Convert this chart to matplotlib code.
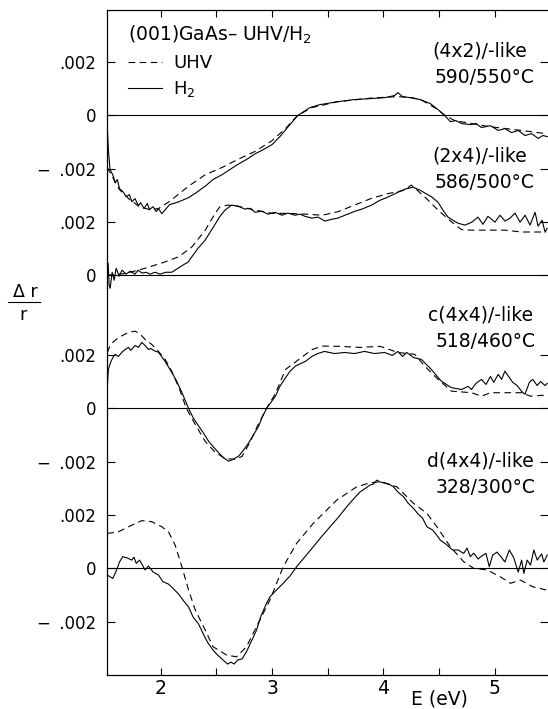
import numpy as np
import matplotlib.pyplot as plt
from matplotlib.lines import Line2D

plt.rcParams['font.family'] = 'DejaVu Sans'

# ---- data: photon energy (eV) and delta r / r (units of 1e-3) ----
# (4x2)/-like  590/550 C
e_uhv_4x2 = [1.52, 1.57, 1.63, 1.72, 1.81, 1.90, 1.98, 2.08, 2.25, 2.40, 2.55, 2.69, 2.85,
             3.00, 3.12, 3.23, 3.36, 3.59, 3.90, 4.13, 4.26, 4.35, 4.49, 4.55, 4.64, 4.94,
             5.24, 5.46]
r_uhv_4x2 = [-1.96, -2.34, -2.79, -3.16, -3.43, -3.54, -3.50, -3.23, -2.66, -2.23, -1.96,
             -1.66, -1.35, -0.95, -0.50, 0.0, 0.29, 0.51, 0.65, 0.70, 0.66, 0.55, 0.21, 0.0,
             -0.20, -0.42, -0.57, -0.69]
e_h2_4x2 = [1.52, 1.53, 1.545, 1.57, 1.59, 1.61, 1.63, 1.66, 1.69, 1.72, 1.74, 1.77, 1.80,
            1.82, 1.85, 1.88, 1.90, 1.93, 1.96, 1.98, 2.01, 2.05, 2.08, 2.16, 2.25, 2.32,
            2.40, 2.47, 2.55, 2.62, 2.69, 2.77, 2.85, 2.92, 3.00, 3.07, 3.14, 3.23, 3.34,
            3.43, 3.59, 3.74, 3.90, 4.01, 4.10, 4.13, 4.17, 4.24, 4.33, 4.42, 4.49, 4.55,
            4.60, 4.65, 4.70, 4.78, 4.83, 4.88, 4.96, 5.03, 5.09, 5.15, 5.21, 5.27, 5.33,
            5.39, 5.43, 5.47]
r_h2_4x2 = [-0.42, -1.29, -2.04, -2.23, -2.53, -2.41, -2.75, -2.86, -3.05, -2.98, -3.24,
            -3.13, -3.39, -3.28, -3.50, -3.31, -3.54, -3.43, -3.61, -3.50, -3.69, -3.50,
            -3.35, -3.25, -3.09, -2.90, -2.66, -2.41, -2.23, -2.04, -1.85, -1.66, -1.44,
            -1.29, -1.10, -0.80, -0.45, -0.01, 0.29, 0.40, 0.51, 0.59, 0.63, 0.66, 0.74,
            0.85, 0.70, 0.66, 0.59, 0.44, 0.21, -0.01, -0.24, -0.20, -0.31, -0.35, -0.31,
            -0.46, -0.39, -0.57, -0.50, -0.65, -0.57, -0.76, -0.69, -0.87, -0.76, -0.80]

# (2x4)/-like  586/500 C
e_uhv_2x4 = [1.52, 1.68, 1.86, 2.04, 2.16, 2.28, 2.40, 2.49, 2.53, 2.60, 2.69, 2.85, 3.00,
             3.14, 3.30, 3.45, 3.59, 3.74, 3.89, 4.04, 4.19, 4.25, 4.37, 4.49, 4.61, 4.70,
             4.79, 5.09, 5.24, 5.45]
r_uhv_2x4 = [0.0, 0.06, 0.26, 0.50, 0.69, 1.06, 1.69, 2.33, 2.56, 2.63, 2.59, 2.44, 2.32,
             2.32, 2.29, 2.25, 2.38, 2.63, 2.88, 3.06, 3.19, 3.38, 2.94, 2.44, 2.00, 1.71,
             1.69, 1.69, 1.62, 1.62]
e_h2_2x4 = [1.519, 1.528, 1.537, 1.546, 1.564, 1.582, 1.600, 1.627, 1.653, 1.689, 1.725,
            1.769, 1.796, 1.832, 1.868, 1.904, 1.949, 1.994, 2.047, 2.099, 2.155, 2.200,
            2.245, 2.290, 2.335, 2.398, 2.443, 2.488, 2.532, 2.577, 2.637, 2.694, 2.757,
            2.802, 2.847, 2.909, 2.963, 3.026, 3.088, 3.142, 3.205, 3.250, 3.295, 3.358,
            3.412, 3.474, 3.537, 3.591, 3.654, 3.744, 3.807, 3.894, 3.968, 4.040, 4.130,
            4.193, 4.265, 4.328, 4.373, 4.435, 4.489, 4.534, 4.579, 4.624, 4.669, 4.731,
            4.794, 4.848, 4.893, 4.938, 5.001, 5.046, 5.091, 5.136, 5.181, 5.226, 5.271,
            5.316, 5.361, 5.388, 5.424, 5.451, 5.469]
r_h2_2x4 = [0.19, 0.45, -0.38, -0.49, 0.11, -0.19, 0.26, -0.04, 0.19, 0.04, 0.15, 0.04,
            0.19, 0.08, 0.11, 0.04, 0.11, 0.04, 0.11, 0.11, 0.26, 0.38, 0.49, 0.75, 1.01,
            1.31, 1.61, 1.91, 2.21, 2.44, 2.63, 2.59, 2.48, 2.51, 2.36, 2.40, 2.29, 2.36,
            2.25, 2.33, 2.25, 2.29, 2.21, 2.14, 2.18, 2.03, 2.10, 2.14, 2.25, 2.40, 2.48,
            2.63, 2.81, 2.93, 3.11, 3.23, 3.30, 3.19, 3.08, 2.93, 2.74, 2.44, 2.18, 2.06,
            1.95, 1.88, 1.99, 2.18, 1.91, 2.21, 1.99, 2.25, 2.03, 2.14, 2.33, 1.99, 2.25,
            1.88, 2.36, 1.84, 2.06, 1.61, 1.76]

# c(4x4)/-like  518/460 C
e_uhv_c4x4 = [1.52, 1.55, 1.62, 1.71, 1.77, 1.81, 1.86, 1.92, 1.98, 2.04, 2.10, 2.17, 2.23,
              2.31, 2.40, 2.49, 2.58, 2.67, 2.73, 2.80, 2.87, 2.95, 3.03, 3.12, 3.24, 3.36,
              3.45, 3.61, 3.79, 3.97, 4.13, 4.28, 4.37, 4.49, 4.61, 4.79, 4.88, 4.96, 5.24,
              5.32, 5.45]
r_uhv_c4x4 = [2.10, 2.40, 2.66, 2.85, 2.90, 2.81, 2.59, 2.40, 2.14, 1.84, 1.39, 0.71, 0.0,
              -0.60, -1.24, -1.65, -1.88, -1.91, -1.80, -1.28, -0.64, 0.0, 0.56, 1.46, 1.84,
              2.21, 2.34, 2.33, 2.29, 2.33, 2.10, 2.03, 1.59, 1.09, 0.65, 0.59, 0.46, 0.59,
              0.59, 0.46, 0.50]
e_h2_c4x4 = [1.52, 1.53, 1.55, 1.57, 1.59, 1.62, 1.65, 1.68, 1.71, 1.73, 1.77, 1.80, 1.83,
             1.86, 1.89, 1.91, 1.95, 1.98, 2.04, 2.10, 2.14, 2.19, 2.25, 2.29, 2.34, 2.38,
             2.43, 2.47, 2.52, 2.56, 2.61, 2.65, 2.70, 2.74, 2.79, 2.83, 2.88, 2.91, 2.95,
             3.03, 3.07, 3.12, 3.16, 3.21, 3.30, 3.36, 3.41, 3.47, 3.56, 3.65, 3.74, 3.83,
             3.92, 4.01, 4.08, 4.13, 4.17, 4.21, 4.27, 4.34, 4.43, 4.52, 4.61, 4.70, 4.76,
             4.79, 4.83, 4.88, 4.92, 4.96, 4.99, 5.03, 5.06, 5.09, 5.13, 5.16, 5.20, 5.24,
             5.27, 5.31, 5.34, 5.38, 5.41, 5.45, 5.47]
r_h2_c4x4 = [0.79, 1.46, 1.73, 1.91, 2.03, 1.95, 2.10, 2.21, 2.29, 2.18, 2.36, 2.29, 2.48,
             2.36, 2.21, 2.25, 2.15, 2.11, 1.76, 1.35, 1.05, 0.60, 0.0, -0.34, -0.66, -0.90,
             -1.23, -1.43, -1.66, -1.84, -1.98, -1.91, -1.79, -1.58, -1.29, -1.01, -0.66,
             -0.34, 0.0, 0.46, 0.83, 1.15, 1.39, 1.59, 1.77, 1.96, 2.06, 2.14, 2.06, 2.10,
             2.06, 2.14, 2.06, 2.10, 1.99, 2.14, 1.95, 2.10, 1.91, 1.84, 1.46, 1.02, 0.78,
             0.71, 0.83, 0.71, 0.94, 1.09, 0.90, 1.20, 0.98, 1.28, 1.09, 1.40, 1.16, 0.98,
             0.86, 0.64, 0.53, 0.98, 1.09, 0.86, 1.01, 0.86, 0.94]

# d(4x4)/-like  328/300 C
e_uhv_d4x4 = [1.52, 1.62, 1.71, 1.83, 1.92, 2.01, 2.07, 2.13, 2.19, 2.25, 2.31, 2.40, 2.47,
              2.59, 2.68, 2.77, 2.89, 2.98, 3.10, 3.22, 3.37, 3.58, 3.76, 3.88, 3.97, 4.12,
              4.27, 4.39, 4.48, 4.60, 4.72, 4.81, 4.93, 5.05, 5.14, 5.23, 5.34, 5.46]
r_uhv_d4x4 = [1.31, 1.37, 1.56, 1.79, 1.75, 1.56, 1.37, 0.87, 0.06, -0.81, -1.56, -2.32,
              -2.94, -3.25, -3.32, -2.94, -1.94, -1.19, 0.06, 0.94, 1.69, 2.56, 3.06, 3.21,
              3.25, 3.06, 2.44, 2.06, 1.56, 0.81, 0.25, 0.0, -0.06, -0.32, -0.56, -0.44,
              -0.69, -0.81]
e_h2_d4x4 = [1.52, 1.57, 1.61, 1.63, 1.66, 1.70, 1.74, 1.76, 1.78, 1.81, 1.84, 1.86, 1.89,
             1.93, 1.98, 2.02, 2.07, 2.11, 2.16, 2.20, 2.25, 2.29, 2.34, 2.38, 2.42, 2.47,
             2.51, 2.56, 2.60, 2.63, 2.66, 2.69, 2.73, 2.77, 2.81, 2.86, 2.90, 2.95, 2.98,
             3.04, 3.10, 3.16, 3.22, 3.30, 3.37, 3.44, 3.52, 3.59, 3.67, 3.73, 3.79, 3.84,
             3.88, 3.91, 3.94, 3.97, 4.01, 4.05, 4.09, 4.13, 4.18, 4.22, 4.27, 4.31, 4.35,
             4.39, 4.44, 4.47, 4.51, 4.56, 4.62, 4.67, 4.72, 4.75, 4.78, 4.81, 4.85, 4.88,
             4.92, 4.95, 4.98, 5.02, 5.05, 5.09, 5.13, 5.17, 5.21, 5.24, 5.26, 5.29, 5.32,
             5.35, 5.38, 5.42, 5.44, 5.47]
r_h2_d4x4 = [-0.25, -0.38, 0.0, 0.24, 0.44, 0.39, 0.31, 0.42, 0.19, 0.31, 0.09, -0.06,
             0.09, -0.13, -0.25, -0.50, -0.59, -0.75, -0.96, -1.19, -1.45, -1.82, -2.09,
             -2.44, -2.77, -3.07, -3.25, -3.44, -3.59, -3.52, -3.59, -3.44, -3.40, -3.13,
             -2.77, -2.32, -1.79, -1.31, -1.07, -0.81, -0.56, -0.29, 0.06, 0.46, 0.81, 1.17,
             1.56, 1.89, 2.31, 2.60, 2.87, 3.01, 3.13, 3.16, 3.31, 3.24, 3.21, 3.16, 3.06,
             2.86, 2.69, 2.45, 2.25, 2.04, 1.89, 1.56, 1.44, 1.29, 1.06, 0.91, 0.69, 0.69,
             0.56, 0.76, 0.44, 0.57, 0.35, 0.46, 0.56, 0.06, 0.50, 0.61, 0.46, 0.24, 0.69,
             0.39, -0.14, 0.31, -0.19, 0.31, 0.12, 0.69, 0.31, 0.54, 0.24, 0.50]

panel_labels = ['(4x2)/-like\n590/550°C', '(2x4)/-like\n586/500°C',
                'c(4x4)/-like\n518/460°C', 'd(4x4)/-like\n328/300°C']
offsets = [0.017, 0.011, 0.006, 0.0]      # vertical shift of each spectrum
panel_ticks = [[2, 0, -2], [2, 0], [2, 0, -2], [2, 0, -2]]
tick_text = {2: '.002', 0: '0', -2: '\u2212\u2002.002'}

panels = [(e_uhv_4x2, r_uhv_4x2, e_h2_4x2, r_h2_4x2),
          (e_uhv_2x4, r_uhv_2x4, e_h2_2x4, r_h2_2x4),
          (e_uhv_c4x4, r_uhv_c4x4, e_h2_c4x4, r_h2_c4x4),
          (e_uhv_d4x4, r_uhv_d4x4, e_h2_d4x4, r_h2_d4x4)]

fig = plt.figure(figsize=(5.48, 7.09), dpi=100)
ax = fig.add_axes([0.1953, 0.0480, 0.8047, 0.9379])

dash = (0, (6, 4))
for (e_u, r_u, e_h, r_h), off in zip(panels, offsets):
    ax.axhline(off, color='k', lw=0.8)
    ax.plot(e_u, np.array(r_u) * 1e-3 + off, color='k', lw=0.8, ls=dash)
    ax.plot(e_h, np.array(r_h) * 1e-3 + off, color='k', lw=0.8)

ax.set_xlim(1.518, 5.477)
ax.set_ylim(-0.004, 0.02095)

# y ticks: every spectrum has its own zero
yt, yl = [], []
for off, tks in zip(offsets, panel_ticks):
    for t in tks:
        yt.append(off + t * 1e-3)
        yl.append(tick_text[t])
ax.set_yticks(yt)
ax.set_yticklabels(yl, fontsize=12)
ax.set_xticks([2, 3, 4, 5])
ax.set_xticks([2.5, 3.5, 4.5], minor=True)
ax.tick_params(axis='x', which='both', direction='in', top=True, length=5, width=0.8,
               labelsize=13.5, pad=3)
ax.tick_params(axis='y', direction='in', right=True, length=5.5, width=0.8, pad=8)
ax.spines['right'].set_visible(False)
for s in ['left', 'top', 'bottom']:
    ax.spines[s].set_linewidth(0.9)

# legend / title block
ax.text(0.0476, 0.9538, '(001)GaAs\u2013 UHV/H$_2$', transform=ax.transAxes,
        fontsize=13.5, va='baseline', ha='left')
ax.add_line(Line2D([0.0476, 0.1247], [0.9214, 0.9214], transform=ax.transAxes,
                   color='k', lw=0.8, ls=dash))
ax.add_line(Line2D([0.0476, 0.1247], [0.8822, 0.8822], transform=ax.transAxes,
                   color='k', lw=0.8))
ax.text(0.1497, 0.9132, 'UHV', transform=ax.transAxes, fontsize=13, va='baseline')
ax.text(0.1497, 0.8733, 'H$_2$', transform=ax.transAxes, fontsize=13, va='baseline')

# spectrum labels
label_pos = [(0.850, 0.9298), (0.850, 0.7719), (0.853, 0.5328), (0.852, 0.3133)]
for (fx, fy), txt in zip(label_pos, panel_labels):
    top, bottom = txt.split('\n')
    ax.text(fx - 0.005, fy, top, transform=ax.transAxes, fontsize=13.5,
            ha='center', va='baseline')
    ax.text(fx + 0.006, fy - 0.039, bottom, transform=ax.transAxes, fontsize=13.5,
            ha='center', va='baseline')

ax.text(0.7528, -0.0451, 'E (eV)', transform=ax.transAxes, fontsize=13.5,
        ha='center', va='baseline')

# delta r / r written as a fraction
fig.text(0.0465, 1 - 292 / 709, '\u0394 r', fontsize=12.5, ha='center', va='center')
fig.add_artist(Line2D([8 / 548, 40 / 548], [1 - 301.7 / 709, 1 - 301.7 / 709],
                      transform=fig.transFigure, color='k', lw=0.8))
fig.text(0.0420, 1 - 315 / 709, 'r', fontsize=12.5, ha='center', va='center')

fig.savefig('out.png', dpi=100)
